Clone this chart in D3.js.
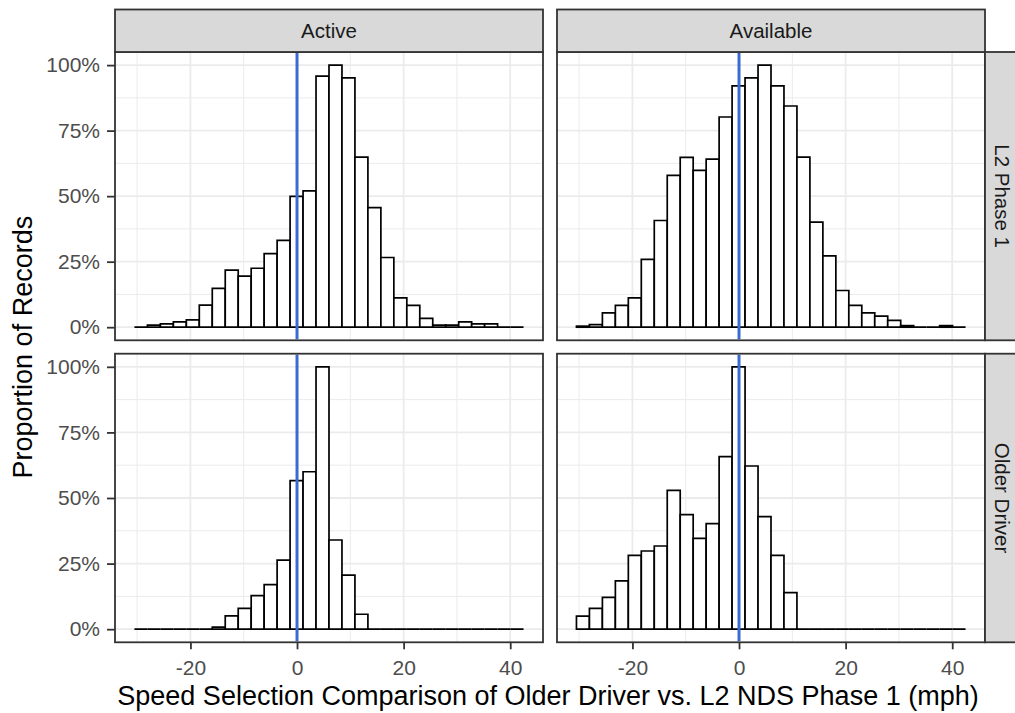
<!DOCTYPE html>
<html>
<head>
<meta charset="utf-8">
<script src="https://cdn.jsdelivr.net/npm/d3@7"></script>
<style>
  html, body { margin: 0; padding: 0; background: #ffffff; }
  svg { display: block; font-family: "Liberation Sans", Arial, sans-serif; }
</style>
</head>
<body>
<svg id="chart" width="1015" height="713"></svg>
<script>
// ---- data ----
const colFacets = ["Active", "Available"];
const rowFacets = ["L2 Phase 1", "Older Driver"];
const binStart = -30.5;      // left edge of first bin (mph)
const binWidth = 2.4333;     // bin width (mph), 30 bins
const refLine = 0;
const xTicks = [-20, 0, 20, 40];
const xMinor = [-30, -10, 10, 30];
const yTicks = [0, 0.25, 0.5, 0.75, 1];
const yMinor = [0.125, 0.375, 0.625, 0.875];

const activeL2 = [0.000, 0.008, 0.013, 0.020, 0.028, 0.084, 0.148, 0.218, 0.195, 0.225,
                  0.281, 0.331, 0.499, 0.520, 0.958, 1.000, 0.951, 0.649, 0.456, 0.266,
                  0.112, 0.083, 0.034, 0.008, 0.008, 0.020, 0.013, 0.013, 0.000, 0.000];
const availableL2 = [0.004, 0.010, 0.055, 0.083, 0.112, 0.259, 0.407, 0.579, 0.648, 0.598,
                     0.641, 0.802, 0.921, 0.951, 1.000, 0.921, 0.844, 0.649, 0.401, 0.272,
                     0.140, 0.083, 0.055, 0.042, 0.026, 0.006, 0.000, 0.000, 0.006, 0.000];
const activeOD = [0.000, 0.000, 0.000, 0.000, 0.000, 0.000, 0.008, 0.051, 0.079, 0.128,
                  0.170, 0.263, 0.566, 0.600, 1.000, 0.340, 0.206, 0.057, 0.000, 0.000,
                  0.000, 0.000, 0.000, 0.000, 0.000, 0.000, 0.000, 0.000, 0.000, 0.000];
const availableOD = [0.050, 0.079, 0.121, 0.184, 0.281, 0.298, 0.317, 0.529, 0.437, 0.346,
                     0.402, 0.658, 1.000, 0.622, 0.429, 0.281, 0.139, 0.000, 0.000, 0.000,
                     0.000, 0.000, 0.000, 0.000, 0.000, 0.000, 0.000, 0.000, 0.000, 0.000];

const xTitle = "Speed Selection Comparison of Older Driver vs. L2 NDS Phase 1 (mph)";
const yTitle = "Proportion of Records";

const panels = [
  {row: 0, col: 0, values: activeL2},
  {row: 0, col: 1, values: availableL2},
  {row: 1, col: 0, values: activeOD},
  {row: 1, col: 1, values: availableOD}
];

// ---- layout ----
const svg = d3.select("#chart");
const colX = [[115, 543], [557, 985]];
const rowY = [[52, 340.3], [353.7, 642.3]];
const stripTop = 9.5;
const stripRightW = 42;
const font = "'Liberation Sans', Arial, sans-serif";

const nBins = activeL2.length;
const binLo = binStart, binHi = binStart + nBins * binWidth;
const span = binHi - binLo;
const xDomain = [binLo - 0.05 * span, binHi + 0.05 * span];
const yDomain = [-0.05, 1.05];

const gridCol = "#ebebeb";
const borderCol = "#333333";

panels.forEach(p => {
  const [x0, x1] = colX[p.col];
  const [y0, y1] = rowY[p.row];
  const x = d3.scaleLinear().domain(xDomain).range([x0, x1]);
  const y = d3.scaleLinear().domain(yDomain).range([y1, y0]);
  const g = svg.append("g");

  g.append("rect").attr("x", x0).attr("y", y0).attr("width", x1 - x0).attr("height", y1 - y0)
    .attr("fill", "#ffffff");

  // minor grid
  g.selectAll(".vminor").data(xMinor).enter().append("line")
    .attr("x1", d => x(d)).attr("x2", d => x(d)).attr("y1", y0).attr("y2", y1)
    .attr("stroke", gridCol).attr("stroke-width", 1);
  g.selectAll(".hminor").data(yMinor).enter().append("line")
    .attr("y1", d => y(d)).attr("y2", d => y(d)).attr("x1", x0).attr("x2", x1)
    .attr("stroke", gridCol).attr("stroke-width", 1);
  // major grid
  g.selectAll(".vmajor").data(xTicks).enter().append("line")
    .attr("x1", d => x(d)).attr("x2", d => x(d)).attr("y1", y0).attr("y2", y1)
    .attr("stroke", gridCol).attr("stroke-width", 1.8);
  g.selectAll(".hmajor").data(yTicks).enter().append("line")
    .attr("y1", d => y(d)).attr("y2", d => y(d)).attr("x1", x0).attr("x2", x1)
    .attr("stroke", gridCol).attr("stroke-width", 1.8);

  // bars (paths so zero-height bins still draw their outline on the baseline)
  const bins = p.values.map((v, i) => ({lo: binStart + i * binWidth, hi: binStart + (i + 1) * binWidth, v}));
  g.selectAll(".bar").data(bins).enter().append("path")
    .attr("d", d => {
      const a = x(d.lo), b = x(d.hi), t = y(d.v), z = y(0);
      return `M${a},${z}V${t}H${b}V${z}Z`;
    })
    .attr("fill", "#ffffff").attr("stroke", "#000000").attr("stroke-width", 1.7)
    .attr("stroke-linejoin", "miter");

  // reference line
  g.append("line").attr("x1", x(refLine)).attr("x2", x(refLine)).attr("y1", y0 + 1).attr("y2", y1 - 1)
    .attr("stroke", "#3a6ccf").attr("stroke-width", 3);

  // border
  g.append("rect").attr("x", x0).attr("y", y0).attr("width", x1 - x0).attr("height", y1 - y0)
    .attr("fill", "none").attr("stroke", borderCol).attr("stroke-width", 1.8);

  // axes
  if (p.col === 0) {
    const ay = g.append("g").attr("transform", `translate(${x0},0)`)
      .call(d3.axisLeft(y).tickValues(yTicks).tickFormat(d3.format(".0%")).tickSize(8).tickPadding(7));
    ay.select(".domain").remove();
    ay.selectAll("line").attr("stroke", borderCol).attr("stroke-width", 1.8);
    ay.selectAll("text").attr("fill", "#4d4d4d").style("font-size", "21px").style("font-family", font);
  }
  if (p.row === 1) {
    const ax = g.append("g").attr("transform", `translate(0,${y1})`)
      .call(d3.axisBottom(x).tickValues(xTicks).tickFormat(d => String(d)).tickSize(7).tickPadding(11));
    ax.select(".domain").remove();
    ax.selectAll("line").attr("stroke", borderCol).attr("stroke-width", 1.8);
    ax.selectAll("text").attr("fill", "#4d4d4d").style("font-size", "21px").style("font-family", font);
  }
});

// top strips
colFacets.forEach((name, c) => {
  const [x0, x1] = colX[c];
  svg.append("rect").attr("x", x0).attr("y", stripTop).attr("width", x1 - x0).attr("height", rowY[0][0] - stripTop)
    .attr("fill", "#d9d9d9").attr("stroke", borderCol).attr("stroke-width", 1.8);
  svg.append("text").attr("x", (x0 + x1) / 2).attr("y", (stripTop + rowY[0][0]) / 2)
    .attr("text-anchor", "middle").attr("dominant-baseline", "central")
    .attr("fill", "#1a1a1a").style("font-size", "20.5px").text(name);
});

// right strips
rowFacets.forEach((name, r) => {
  const [y0, y1] = rowY[r];
  const xs = colX[1][1];
  svg.append("rect").attr("x", xs).attr("y", y0).attr("width", stripRightW).attr("height", y1 - y0)
    .attr("fill", "#d9d9d9").attr("stroke", borderCol).attr("stroke-width", 1.8);
  const cx = xs + 17, cy = (y0 + y1) / 2;
  svg.append("text").attr("transform", `translate(${cx},${cy}) rotate(90)`)
    .attr("text-anchor", "middle").attr("dominant-baseline", "central")
    .attr("fill", "#1a1a1a").style("font-size", "20.5px").text(name);
});

// axis titles
svg.append("text").attr("x", 548).attr("y", 705)
  .attr("text-anchor", "middle").attr("fill", "#000000").style("font-size", "27px").text(xTitle);
svg.append("text").attr("transform", `translate(32,${(rowY[0][0] + rowY[1][1]) / 2}) rotate(-90)`)
  .attr("text-anchor", "middle").attr("fill", "#000000").style("font-size", "27px").text(yTitle);
</script>
</body>
</html>
